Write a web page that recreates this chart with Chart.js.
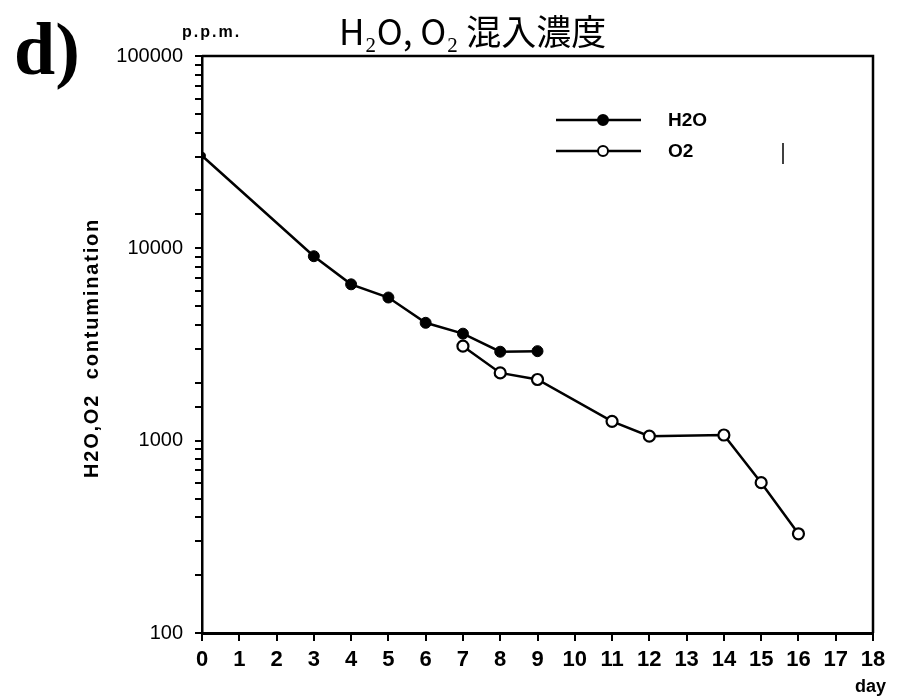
<!DOCTYPE html>
<html>
<head>
<meta charset="utf-8">
<title>H2O, O2 contamination</title>
<script src="https://cdn.jsdelivr.net/npm/chart.js@4.4.1/dist/chart.umd.min.js"></script>
<style>
  html, body { margin: 0; padding: 0; background: #fff; }
  canvas { display: block; }
</style>
</head>
<body>
<canvas id="contamChart" width="898" height="697"></canvas>
<script>
// measured days and concentrations (p.p.m.)
const h2oDays = [0, 3, 4, 5, 6, 7, 8, 9];
const h2oPpm = [30300, 9100, 6500, 5550, 4100, 3600, 2900, 2920];
const o2Days = [7, 8, 9, 11, 12, 14, 15, 16];
const o2Ppm = [3100, 2250, 2080, 1260, 1055, 1070, 605, 328];

const xTicks = [0, 1, 2, 3, 4, 5, 6, 7, 8, 9, 10, 11, 12, 13, 14, 15, 16, 17, 18];
const yLabels = [100, 1000, 10000, 100000];

const toPoints = (xs, ys) => xs.map((d, i) => ({ x: d, y: ys[i] }));

// frame, hand-lettered title, axis captions and the legend box
const decorations = {
  id: 'decorations',
  afterDraw(chart) {
    const { ctx, chartArea: a } = chart;
    ctx.save();
    ctx.strokeStyle = '#000';
    ctx.lineWidth = 2.5;
    ctx.beginPath();
    ctx.moveTo(a.left, a.top);
    ctx.lineTo(a.right, a.top);
    ctx.lineTo(a.right, a.bottom);
    ctx.stroke();

    ctx.fillStyle = '#000';
    ctx.textBaseline = 'alphabetic';
    ctx.textAlign = 'left';
    ctx.font = 'bold 74px "Liberation Serif"';
    ctx.fillText('d)', 14, 74);

    ctx.font = 'bold 16px "Liberation Sans"';
    ctx.letterSpacing = '2px';
    ctx.fillText('p.p.m.', 182, 37);
    ctx.letterSpacing = '0px';

    ctx.font = '35px "Noto Sans CJK JP"';
    ctx.fillText('H\u2082O, O\u2082 混入濃度', 339, 45);

    ctx.font = 'bold 18px "Liberation Sans"';
    ctx.textAlign = 'right';
    ctx.fillText('day', 886, 692);

    // rotated y caption
    ctx.save();
    ctx.translate(98, 348);
    ctx.rotate(-Math.PI / 2);
    ctx.textAlign = 'center';
    ctx.font = 'bold 20px "Liberation Sans"';
    ctx.letterSpacing = '1.8px';
    ctx.fillText('H2O,O2  contumination', 0, 0);
    ctx.restore();

    // legend
    const rows = [
      { label: 'H2O', y: 120, fill: '#000' },
      { label: 'O2', y: 151, fill: '#fff' }
    ];
    ctx.textAlign = 'left';
    ctx.textBaseline = 'middle';
    ctx.font = 'bold 19px "Liberation Sans"';
    rows.forEach(r => {
      ctx.lineWidth = 2.5;
      ctx.beginPath();
      ctx.moveTo(556, r.y);
      ctx.lineTo(641, r.y);
      ctx.stroke();
      ctx.beginPath();
      ctx.arc(603, r.y, 5, 0, Math.PI * 2);
      ctx.fillStyle = r.fill;
      ctx.fill();
      ctx.lineWidth = 2;
      ctx.stroke();
      ctx.fillStyle = '#000';
      ctx.fillText(r.label, 668, r.y + 1);
    });

    ctx.lineWidth = 1.5;
    ctx.beginPath();
    ctx.moveTo(783, 143);
    ctx.lineTo(783, 164);
    ctx.stroke();
    ctx.restore();
  }
};

new Chart(document.getElementById('contamChart'), {
  type: 'line',
  data: {
    datasets: [
      {
        label: 'H2O',
        data: toPoints(h2oDays, h2oPpm),
        borderColor: '#000',
        borderWidth: 2.5,
        backgroundColor: '#000',
        pointBackgroundColor: '#000',
        pointBorderColor: '#000',
        pointRadius: ctx => (ctx.dataIndex === 0 ? 3.5 : 5.5),
        pointBorderWidth: 1,
        tension: 0
      },
      {
        label: 'O2',
        data: toPoints(o2Days, o2Ppm),
        borderColor: '#000',
        borderWidth: 2.5,
        backgroundColor: '#fff',
        pointBackgroundColor: '#fff',
        pointBorderColor: '#000',
        pointRadius: 5.5,
        pointBorderWidth: 2.2,
        tension: 0
      }
    ]
  },
  options: {
    responsive: false,
    animation: false,
    layout: { padding: { top: 56, right: 25, left: 0, bottom: 0 } },
    plugins: {
      legend: { display: false },
      tooltip: { enabled: false }
    },
    scales: {
      x: {
        type: 'linear',
        min: 0,
        max: 18,
        afterBuildTicks: scale => { scale.ticks = xTicks.map(v => ({ value: v })); },
        afterFit: scale => { scale.height = 64; },
        ticks: {
          color: '#000',
          padding: 6,
          font: { family: 'Liberation Sans', size: 22, weight: 'bold' },
          maxRotation: 0,
          autoSkip: false
        },
        grid: {
          drawOnChartArea: false,
          color: '#000',
          lineWidth: 2,
          tickLength: 8
        },
        border: { color: '#000', width: 3 }
      },
      y: {
        type: 'logarithmic',
        min: 100,
        max: 100000,
        afterFit: scale => { scale.width = 202; },
        ticks: {
          color: '#000',
          padding: 12,
          autoSkip: false,
          font: { family: 'Liberation Sans', size: 20 },
          callback: v => (yLabels.includes(v) ? String(v) : '')
        },
        grid: {
          drawOnChartArea: false,
          color: '#000',
          lineWidth: 2,
          tickLength: 7
        },
        border: { color: '#000', width: 2.5 }
      }
    }
  },
  plugins: [decorations]
});
</script>
</body>
</html>
